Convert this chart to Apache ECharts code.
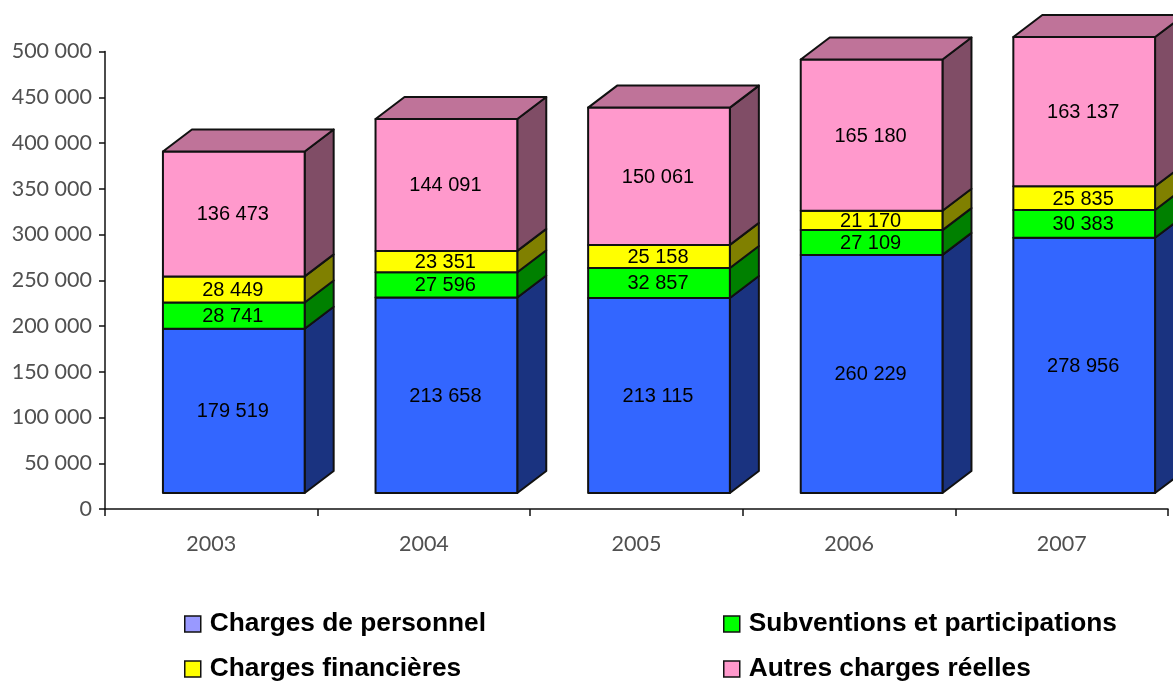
<!DOCTYPE html>
<html>
<head>
<meta charset="utf-8">
<title>Charges</title>
<script src="https://cdn.jsdelivr.net/npm/echarts@6/dist/echarts.min.js"></script>
<style>
  html, body { margin: 0; padding: 0; background: #fff; }
  #main { width: 1173px; height: 681px; }
</style>
</head>
<body>
<div id="main"></div>
<script>
// 数据
const years = ['2003', '2004', '2005', '2006', '2007'];
const personnel = [179519, 213658, 213115, 260229, 278956];
const subventions = [28741, 27596, 32857, 27109, 30383];
const financieres = [28449, 23351, 25158, 21170, 25835];
const autres = [136473, 144091, 150061, 165180, 163137];

const names = ['Charges de personnel', 'Subventions et participations', 'Charges financières', 'Autres charges réelles'];
const stacks = [personnel, subventions, financieres, autres];
const legendColors = ['#9999ff', '#00ff00', '#ffff00', '#ff99cc'];
const frontColors = ['#3366ff', '#00ff00', '#ffff00', '#ff99cc'];
const sideColors = ['#1a3380', '#008000', '#808000', '#804d66'];
const topColor = '#bf7399';

// 3D 偏移
const depthX = 29, depthY = 22, floorY = 16, shiftX = 22.5, barRatio = 142 / 213;
const edge = { stroke: '#111', lineWidth: 2, lineJoin: 'round' };

function fmt(v) {
  return String(v).replace(/\B(?=(\d{3})+$)/g, ' ');
}

function renderBar(s) {
  return function (params, api) {
    const i = api.value(0);
    const start = api.coord([i, api.value(1)]);
    const end = api.coord([i, api.value(2)]);
    const w = api.size([1, 0])[0] * barRatio;
    const x0 = start[0] + shiftX - w / 2, x1 = x0 + w;
    const y0 = start[1] - floorY, y1 = end[1] - floorY;
    const children = [
      { type: 'polygon', shape: { points: [[x1, y0], [x1 + depthX, y0 - depthY], [x1 + depthX, y1 - depthY], [x1, y1]] },
        style: Object.assign({ fill: sideColors[s] }, edge) },
      { type: 'rect', shape: { x: x0, y: y1, width: w, height: y0 - y1 },
        style: Object.assign({ fill: frontColors[s] }, edge) }
    ];
    if (s === stacks.length - 1) {
      children.push({ type: 'polygon', shape: { points: [[x0, y1], [x0 + depthX, y1 - depthY], [x1 + depthX, y1 - depthY], [x1, y1]] },
        style: Object.assign({ fill: topColor }, edge) });
    }
    children.push({ type: 'text', x: (x0 + x1) / 2 - 1, y: (y0 + y1) / 2 + 1,
      style: { text: fmt(api.value(2) - api.value(1)), fill: '#000', font: '20px "Liberation Sans"', align: 'center', verticalAlign: 'middle' } });
    return { type: 'group', children: children };
  };
}

// 累加生成每一段的起止值
const running = years.map(() => 0);
const series = stacks.map((vals, s) => {
  const data = vals.map((v, i) => {
    const row = [i, running[i], running[i] + v];
    running[i] += v;
    return row;
  });
  return {
    name: names[s],
    type: 'custom',
    renderItem: renderBar(s),
    clip: false,
    encode: { x: 0, y: [1, 2] },
    itemStyle: { color: legendColors[s] },
    data: data
  };
});

// 图例每项单独定位
function legendAt(left, top, name) {
  return {
    left: left,
    top: top,
    padding: 0,
    itemWidth: 16,
    itemHeight: 16,
    selectedMode: false,
    icon: 'rect',
    data: [name],
    itemStyle: { borderColor: '#111', borderWidth: 1.5 },
    textStyle: { color: '#000', fontFamily: 'Liberation Sans', fontWeight: 'bold', fontSize: 26.3, padding: [0, 0, 0, 4] }
  };
}

const myChart = echarts.init(document.getElementById('main'));
const option = {
  animation: false,
  backgroundColor: '#fff',
  grid: { left: 105, right: 5, top: 51.5, bottom: 172 },
  legend: [
    legendAt(184, 611, names[0]),
    legendAt(723, 611, names[1]),
    legendAt(184, 656, names[2]),
    legendAt(723, 656, names[3])
  ],
  xAxis: {
    type: 'category',
    data: years,
    boundaryGap: true,
    axisLine: { lineStyle: { color: '#111', width: 1.5 } },
    axisTick: { show: true, alignWithLabel: false, length: 7, lineStyle: { color: '#111', width: 1.5 } },
    axisLabel: { color: '#505050', fontFamily: 'Lato', fontSize: 21.5, margin: 24 }
  },
  yAxis: {
    type: 'value',
    min: 0,
    max: 500000,
    interval: 50000,
    splitLine: { show: false },
    axisLine: { show: true, lineStyle: { color: '#111', width: 1.5 } },
    axisTick: { show: true, length: 6, lineStyle: { color: '#111', width: 1.5 } },
    axisLabel: { color: '#505050', fontFamily: 'Lato', fontSize: 21.5, margin: 13, formatter: fmt }
  },
  series: series
};
myChart.setOption(option);
</script>
</body>
</html>
